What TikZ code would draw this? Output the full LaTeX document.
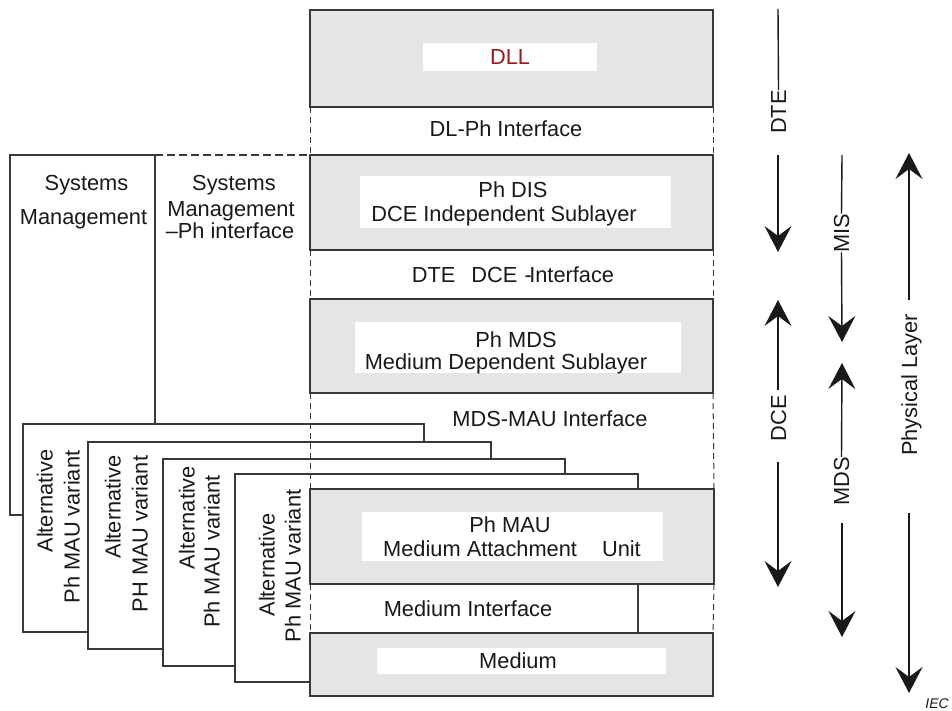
\documentclass[tikz,border=0pt]{standalone}
\usepackage{fontspec}
\setmainfont{Liberation Sans}
\usetikzlibrary{arrows.meta}
\definecolor{ln}{gray}{0.22}
\definecolor{gr}{gray}{0.9}
\definecolor{dllred}{RGB}{150,28,28}
\definecolor{tx}{gray}{0.1}
\begin{document}
\begin{tikzpicture}[x=1pt,y=-1pt,
  box/.style={draw=ln, line width=1.4pt, anchor=north west, inner sep=0pt, outer sep=0pt},
  layer/.style={box, fill=gr},
  card/.style={box, fill=white},
  innerw/.style={fill=white, inner sep=0pt, outer sep=0pt, anchor=north west},
  lbl/.style={inner sep=0pt, outer sep=0pt, text height=15.4pt, text depth=0pt, font=\fontsize{21.8}{24}\selectfont, text=tx},
  vlbl/.style={lbl, rotate=90},
  dsh/.style={draw=ln, line width=1pt, dash pattern=on 6pt off 4pt},
  dshtop/.style={draw=ln, line width=1.3pt, dash pattern=on 8pt off 4pt},
  plain/.style={draw=tx, line width=1.4pt},
  arr/.style={draw=tx, line width=1.4pt, -{Stealth[length=26pt,width=27pt,inset=10pt]}}
]
\useasboundingbox (0,0) rectangle (952,711);

% Systems management box
\node[card, minimum width=145pt, minimum height=360pt] (sm) at (10,155) {};

% Alternative MAU cards
\node[card, minimum width=401pt, minimum height=208pt] (c1) at (23,424) {};
\node[card, minimum width=403pt, minimum height=207pt] (c2) at (88,442) {};
\node[card, minimum width=402pt, minimum height=207pt] (c3) at (163,459) {};
\node[card, minimum width=403pt, minimum height=208pt] (c4) at (235,474) {};

% main layers
\node[layer, minimum width=403pt, minimum height=97pt] (dll) at (310,10) {};
\node[layer, minimum width=403pt, minimum height=95pt] (dis) at (310,155) {};
\node[layer, minimum width=403pt, minimum height=94pt] (mds) at (310,299) {};
\node[layer, minimum width=404pt, minimum height=95pt] (mau) at (310,489) {};
\node[layer, minimum width=403pt, minimum height=63pt] (med) at (310,633) {};

% inner white panels
\node[innerw, minimum width=174pt, minimum height=28pt] (dllin) at (423,43) {};
\node[innerw, minimum width=311pt, minimum height=52pt] (disin) at (360,176) {};
\node[innerw, minimum width=326pt, minimum height=51pt] (mdsin) at (355,322) {};
\node[innerw, minimum width=301pt, minimum height=49pt] (mauin) at (362,512) {};
\node[innerw, minimum width=289pt, minimum height=26pt] (medin) at (377,648) {};

% dashed interface sides
\draw[dsh] (dll.south west) -- (dis.north west);
\draw[dsh] (dll.south east) -- (dis.north east);
\draw[dsh] (dis.south west) -- (mds.north west);
\draw[dsh] (dis.south east) -- (mds.north east);
\draw[dsh] (mds.south west) -- (mau.north west);
\draw[dsh] (mds.south east) -- (mau.north east);
\draw[dsh] (mau.south west) -- (med.north west);
\draw[dsh] (mau.south east) -- (med.north east);
\draw[dshtop] (sm.north east) -- (dis.north west);

% layer texts
\node[lbl, text=dllred] (tdll) at (510,57) {DLL};
\node[lbl] (tdlph) at (506,129) {DL-Ph Interface};
\node[lbl] (tdis1) at (513,190) {Ph DIS};
\node[lbl] (tdis2) at (504,214) {DCE Independent Sublayer};
\node[lbl] (tdtedce) at (513,275) {DTE\hspace{16pt}DCE\hspace{7pt}-\kern-2.5pt Interface};
\node[lbl] (tmds1) at (516,340) {Ph MDS};
\node[lbl] (tmds2) at (506,361.5) {Medium Dependent Sublayer};
\node[lbl] (tmdsmau) at (550,419) {MDS-MAU Interface};
\node[lbl] (tmau1) at (510,525) {Ph MAU};
\node[lbl] (tmau2) at (512,549) {Medium Attachment\hspace{25pt}Unit};
\node[lbl] (tmedif) at (468,609) {Medium Interface};
\node[lbl] (tmed) at (518,661) {Medium};

% systems management texts
\node[lbl] (tsm1) at (86.5,182.5) {Systems};
\node[lbl] (tsm2) at (83.5,217) {Management};
\node[lbl] (tsmi1) at (234,182.5) {Systems};
\node[lbl] (tsmi2) at (231,208.5) {Management};
\node[lbl] (tsmi3) at (230,231) {–Ph interface};

% card texts
\node[vlbl] (c1a) at (45,501) {Alternative};
\node[vlbl] (c1b) at (72,527) {Ph MAU variant};
\node[vlbl] (c2a) at (113,507) {Alternative};
\node[vlbl] (c2b) at (140,534) {PH MAU variant};
\node[vlbl] (c3a) at (187,517.5) {Alternative};
\node[vlbl] (c3b) at (212,551.5) {Ph MAU variant};
\node[vlbl] (c4a) at (267,565) {Alternative};
\node[vlbl] (c4b) at (293,566) {Ph MAU variant};

% right-hand scale: DTE / DCE
\coordinate (dteT) at (778,9);
\node[vlbl] (dte) at (778.5,112) {DTE};
\draw[plain] (dteT) -- (dte.east);
\coordinate (dteA) at (778,155);
\coordinate (dteB) at (778,252);
\draw[arr] (dteA) -- (dteB);
\coordinate (dceA) at (778,390);
\coordinate (dceB) at (778,300);
\draw[arr] (dceA) -- (dceB);
\node[vlbl] (dce) at (778.5,418) {DCE};
\coordinate (dceC) at (778,462);
\coordinate (dceD) at (778,587);
\draw[arr] (dceC) -- (dceD);

% MIS / MDS
\coordinate (misT) at (842,155);
\node[vlbl] (mis) at (841.5,233) {MIS};
\draw[plain] (misT) -- (mis.east);
\coordinate (misB) at (842,342);
\draw[arr] (mis.west) -- (misB);
\node[vlbl] (mdsl) at (841.5,481) {MDS};
\coordinate (mdsT) at (842,363);
\draw[arr] (mdsl.east) -- (mdsT);
\coordinate (mdsA) at (842,523);
\coordinate (mdsB) at (842,637);
\draw[arr] (mdsA) -- (mdsB);

% Physical layer
\coordinate (phA) at (909,300);
\coordinate (phT) at (909,153);
\draw[arr] (phA) -- (phT);
\node[vlbl] (phys) at (909.5,385) {Physical Layer};
\coordinate (phB) at (909,513);
\coordinate (phD) at (909,693);
\draw[arr] (phB) -- (phD);

\node[inner sep=0pt, anchor=base east, font=\itshape\fontsize{14}{16}\selectfont, text=tx] (iec) at (949,708) {IEC};
\end{tikzpicture}
\end{document}
